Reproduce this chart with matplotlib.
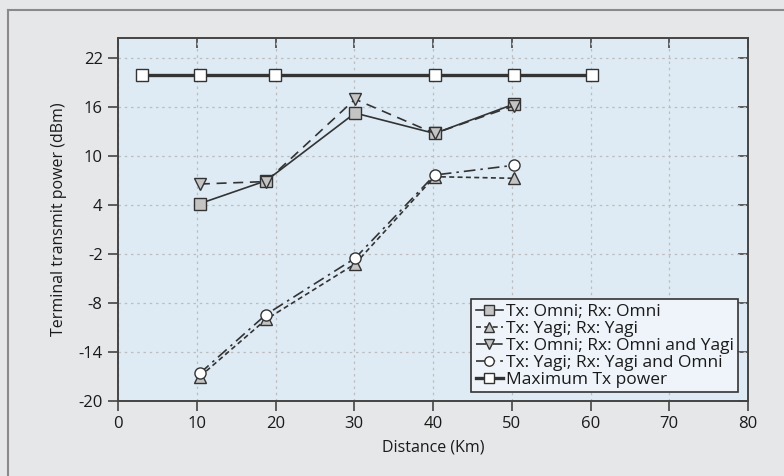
import matplotlib
matplotlib.use('Agg')
import matplotlib.pyplot as plt
from matplotlib.lines import Line2D

# distances (km) and measured transmit power (dBm)
dist = [10.4, 18.8, 30.1, 40.2, 50.3]
omni_omni = [4.2, 7.0, 15.3, 12.8, 16.4]
yagi_yagi = [-17.0, -10.0, -3.2, 7.5, 7.3]
omni_mixed = [6.6, 6.9, 17.0, 12.8, 16.2]
yagi_mixed = [-16.6, -9.4, -2.5, 7.7, 8.9]

max_dist = [3, 10.4, 19.9, 40.2, 50.3, 60.2]
max_power = [20, 20, 20, 20, 20, 20]

xticks = [0, 10, 20, 30, 40, 50, 60, 70, 80]
yticks = [-20, -14, -8, -2, 4, 10, 16, 22]

plt.rcParams['font.family'] = ['Open Sans', 'DejaVu Sans']

fig_bg = '#e6e7e9'
ax_bg = '#deebf4'
ink = '#333333'
grey = '#c4c4c4'
txt = '#1a1a1a'

fig = plt.figure(figsize=(7.84, 4.76), dpi=100, facecolor=fig_bg)
ax = fig.add_axes([118 / 784, 1 - 401 / 476, (748 - 118) / 784, (401 - 38) / 476])
ax.set_facecolor(ax_bg)

# outer frame (left + top only)
fig.add_artist(Line2D([8 / 784, 8 / 784], [0, 1 - 10 / 476], transform=fig.transFigure,
                      color='#8a8a8a', lw=1.5))
fig.add_artist(Line2D([8 / 784, 1], [1 - 10 / 476, 1 - 10 / 476], transform=fig.transFigure,
                      color='#8a8a8a', lw=1.5))

ms = 8
ax.plot(dist, omni_omni, '-', color=ink, lw=1.2, marker='s', ms=ms,
        mfc=grey, mec=ink, mew=1.0, label='Tx: Omni; Rx: Omni', zorder=3)
ax.plot(dist, yagi_yagi, color=ink, lw=1.2, ls=(0, (3, 2)), marker='^', ms=ms + 1,
        mfc=grey, mec=ink, mew=1.0, label='Tx: Yagi; Rx: Yagi', zorder=3)
ax.plot(dist, omni_mixed, color=ink, lw=1.2, ls=(0, (6, 4)), marker='v', ms=ms + 1,
        mfc=grey, mec=ink, mew=1.0, label='Tx: Omni; Rx: Omni and Yagi', zorder=3)
ax.plot(dist, yagi_mixed, color=ink, lw=1.2, ls=(0, (7, 3, 1.5, 3)), marker='o', ms=ms,
        mfc='white', mec=ink, mew=1.0, label='Tx: Yagi; Rx: Yagi and Omni', zorder=4)
ax.plot(max_dist, max_power, '-', color=ink, lw=2.4, marker='s', ms=ms,
        mfc='white', mec=ink, mew=1.0, label='Maximum Tx power', zorder=3)

ax.set_xlim(0, 80)
ax.set_ylim(-20, 24.5)
ax.set_xticks(xticks)
ax.set_yticks(yticks)
ax.set_yticklabels([str(v) for v in yticks])
ax.grid(True, ls=(0, (2, 3)), color='#bdbdbd', lw=0.9)
ax.set_axisbelow(True)

for s in ax.spines.values():
    s.set_color('#444444')
    s.set_linewidth(1.4)

ax.tick_params(axis='both', which='major', labelsize=12, length=7, width=1.2,
               color='#444444', labelcolor=txt, direction='out', pad=4)
# mirror ticks pointing inward on top and right
ax_top = ax.secondary_xaxis('top')
ax_top.set_xticks(xticks)
ax_top.tick_params(direction='in', length=7, width=1.2, color='#444444', labeltop=False)
ax_top.spines['top'].set_visible(False)
ax_right = ax.secondary_yaxis('right')
ax_right.set_yticks(yticks)
ax_right.tick_params(direction='in', length=7, width=1.2, color='#444444', labelright=False)
ax_right.spines['right'].set_visible(False)

ax.set_xlabel('Distance (Km)', fontsize=11.5, labelpad=5, color=txt)
ax.set_ylabel('Terminal transmit power (dBm)', fontsize=11.5, labelpad=8, color=txt)

leg = ax.legend(loc='lower right', bbox_to_anchor=(0.99, 0.015), fontsize=12.5,
                frameon=True, fancybox=False, handlelength=1.6, handletextpad=0.15,
                labelspacing=0.05, borderpad=0.25, borderaxespad=0.2, markerscale=0.85)
for t in leg.get_texts():
    t.set_color(txt)
leg.get_frame().set_facecolor('#eef4fa')
leg.get_frame().set_edgecolor('#333333')
leg.get_frame().set_linewidth(1.2)
leg.get_frame().set_alpha(1)

fig.savefig('out.png', dpi=100, facecolor=fig_bg)
